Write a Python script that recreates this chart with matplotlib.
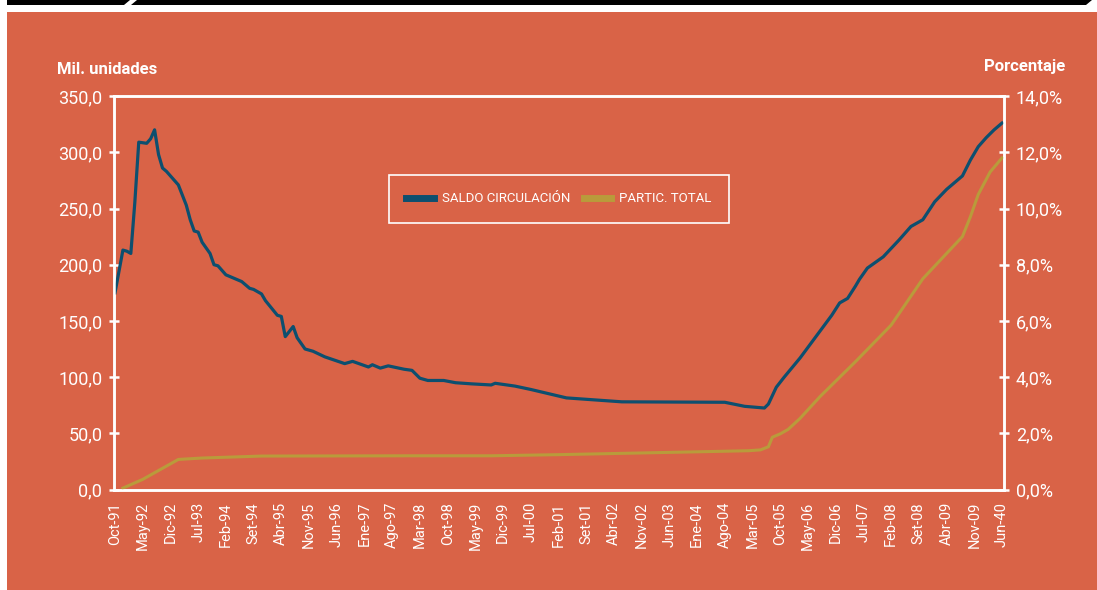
import matplotlib.pyplot as plt
from matplotlib.patches import Rectangle, Polygon
from matplotlib.ticker import FuncFormatter

# meses contados desde Oct-91
meses_saldo = [0, 2, 3, 4, 5, 6, 8, 9, 10, 11, 12, 13, 16, 18, 19, 20, 21, 22, 24, 25,
               26, 28, 30, 32, 34, 35, 37, 38, 41, 42, 43, 45, 46, 48, 50, 53, 58, 60, 64, 65,
               67, 69, 73, 75, 77, 79, 83, 86, 90, 95, 96, 101, 105, 111, 114, 120, 128, 154, 159, 164,
               165, 167, 169, 173, 177, 181, 183, 185, 187, 188, 190, 194, 198, 201, 204, 207, 210, 214, 216, 218,
               220, 222, 224]
saldo = [175, 213, 212, 210, 255, 309, 308, 312, 320, 298, 286, 283, 271, 253, 240, 230, 229, 220, 210, 200,
         199, 191, 188, 185, 179, 178, 174, 168, 155, 154, 136, 145, 135, 125, 123, 118, 112, 114, 109, 111,
         108, 110, 107, 106, 99, 97, 97, 95, 94, 93, 94.5, 92, 89, 84, 81.5, 80, 78, 77.6, 74, 72.5,
         76, 91, 100, 117, 136, 155, 166, 170, 181, 187, 197, 207, 222, 234, 240, 256, 267, 279, 293, 305,
         313, 320, 326]

meses_partic = [2, 7, 16, 22, 37, 75, 95, 112, 150, 160, 163, 165, 166, 168, 170, 173, 178, 187, 196, 204,
                214, 216, 218, 221, 224]
partic = [0.05, 0.36, 1.07, 1.12, 1.19, 1.20, 1.20, 1.24, 1.35, 1.38, 1.41, 1.52, 1.86, 1.98, 2.14, 2.53, 3.30, 4.55, 5.85, 7.50,
          9.0, 9.7, 10.5, 11.3, 11.8]

etiquetas = ['Oct-91', 'May-92', 'Dic-92', 'Jul-93', 'Feb-94', 'Set-94', 'Abr-95', 'Nov-95', 'Jun-96',
             'Ene-97', 'Ago-97', 'Mar-98', 'Oct-98', 'May-99', 'Dic-99', 'Jul-00', 'Feb-01', 'Set-01',
             'Abr-02', 'Nov-02', 'Jun-03', 'Ene-04', 'Ago-04', 'Mar-05', 'Oct-05', 'May-06', 'Dic-06',
             'Jul-07', 'Feb-08', 'Set-08', 'Abr-09', 'Nov-09', 'Jun-40']

NARANJA = '#D96347'
AZUL = '#0D4F6F'
ORO = '#B99B3B'
W, H = 1097, 590

plt.rcParams['font.family'] = ['Roboto', 'DejaVu Sans']

fig = plt.figure(figsize=(W / 100, H / 100), dpi=100, facecolor='white')

# fondo naranja y franja negra superior
fig.add_artist(Rectangle((7 / W, 0), 1, 578 / H, transform=fig.transFigure,
                         facecolor=NARANJA, edgecolor='none', zorder=0))
def px(x, y):
    return (x / W, 1 - y / H)
fig.add_artist(Polygon([px(7, 0), px(130, 0), px(124, 5), px(7, 5)], closed=True,
                       transform=fig.transFigure, facecolor='black', edgecolor='none'))
fig.add_artist(Polygon([px(137, 0), px(1092, 0), px(1086, 5), px(131, 5)], closed=True,
                       transform=fig.transFigure, facecolor='black', edgecolor='none'))

ax = fig.add_axes([114 / W, 1 - 489.5 / H, 890 / W, 393.4 / H])
ax.patch.set_alpha(0)
ax2 = ax.twinx()

l1, = ax.plot(meses_saldo, saldo, color=AZUL, lw=2.3, label='SALDO CIRCULACIÓN', zorder=3)
l2, = ax2.plot(meses_partic, partic, color=ORO, lw=2.2, label='PARTIC. TOTAL')

ax.set_xlim(-0.25, 224.5)
ax.set_ylim(0, 350)
ax2.set_ylim(0, 14)
ax.set_xticks(range(0, 225, 7))
ax.set_xticklabels(etiquetas)
ax.set_yticks(range(0, 351, 50))
ax2.set_yticks(range(0, 15, 2))
ax.yaxis.set_major_formatter(FuncFormatter(lambda v, p: f'{v:.1f}'.replace('.', ',')))
ax2.yaxis.set_major_formatter(FuncFormatter(lambda v, p: f'{v:.1f}%'.replace('.', ',')))

for a in (ax, ax2):
    for s in a.spines.values():
        s.set_color('white')
        s.set_linewidth(1.8)

ax.tick_params(axis='y', direction='inout', length=7, width=1.8, colors='white', labelsize=13, pad=5)
ax.tick_params(axis='x', length=0, colors='white', labelsize=10.5, pad=9, labelrotation=90)
ax2.tick_params(axis='y', direction='inout', length=7, width=1.8, colors='white', labelsize=13, pad=5)

leg = ax2.legend([l1, l2], [l1.get_label(), l2.get_label()], ncol=2, loc='center',
                 bbox_to_anchor=(0.5, 0.7385), frameon=True, fancybox=False,
                 facecolor=NARANJA, edgecolor='white', framealpha=1, fontsize=9.5,
                 labelcolor='white', handlelength=2.1, handletextpad=0.6,
                 columnspacing=1.0, borderpad=1.35)
leg.get_frame().set_linewidth(1.2)
for ln in leg.get_lines():
    ln.set_linewidth(5)

fig.text(57 / W, 1 - 69 / H, 'Mil. unidades', ha='left', va='center',
         fontsize=12, fontweight='bold', color='white')
fig.text(1065 / W, 1 - 67 / H, 'Porcentaje', ha='right', va='center',
         fontsize=12, fontweight='bold', color='white')

fig.savefig('out.png', dpi=100, facecolor=fig.get_facecolor())
